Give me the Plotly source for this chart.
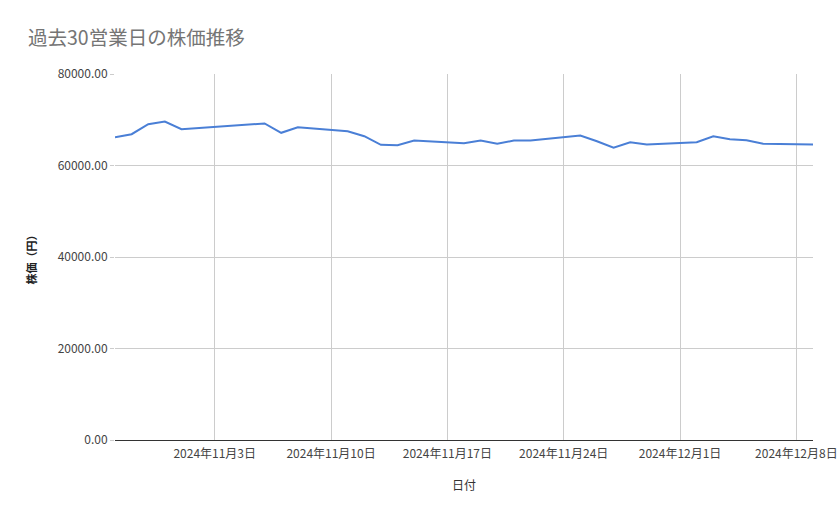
import plotly.graph_objects as go

dates = ["2024-10-28", "2024-10-29", "2024-10-30", "2024-10-31", "2024-11-01",
         "2024-11-05", "2024-11-06", "2024-11-07", "2024-11-08",
         "2024-11-11", "2024-11-12", "2024-11-13", "2024-11-14", "2024-11-15",
         "2024-11-18", "2024-11-19", "2024-11-20", "2024-11-21", "2024-11-22",
         "2024-11-25", "2024-11-26", "2024-11-27", "2024-11-28", "2024-11-29",
         "2024-12-02", "2024-12-03", "2024-12-04", "2024-12-05", "2024-12-06",
         "2024-12-09"]
prices = [66190, 66840, 69030, 69620, 67940,
          68900, 69180, 67150, 68370,
          67500, 66400, 64530, 64440, 65470,
          64880, 65470, 64740, 65470, 65470,
          66560, 65310, 63870, 65090, 64590,
          65090, 66400, 65750, 65530, 64740,
          64590]

tick_vals = ["2024-11-03", "2024-11-10", "2024-11-17", "2024-11-24", "2024-12-01", "2024-12-08"]
tick_text = ["2024年11月3日", "2024年11月10日", "2024年11月17日", "2024年11月24日", "2024年12月1日", "2024年12月8日"]
y_ticks = [0, 20000, 40000, 60000, 80000]
y_text = ["0.00", "20000.00", "40000.00", "60000.00", "80000.00"]

FONT = "Noto Sans CJK JP, Roboto, sans-serif"

fig = go.Figure(go.Scatter(
    x=dates, y=prices, mode="lines",
    line=dict(color="#4a7fd6", width=2),
    hoverinfo="x+y",
))

fig.update_layout(
    width=839, height=519,
    margin=dict(l=115, r=26, t=74, b=79),
    paper_bgcolor="white", plot_bgcolor="white",
    showlegend=False,
    font=dict(family=FONT, size=12, color="#444444"),
    title=dict(text="過去30営業日の株価推移", x=0.0334, xanchor="left",
               y=0.927, yanchor="middle",
               font=dict(family=FONT, size=19.5, color="#757575")),
    xaxis=dict(
        type="date", range=["2024-10-28", "2024-12-09"],
        tickvals=tick_vals, ticktext=tick_text,
        automargin=False,
        showgrid=True, gridcolor="#cccccc", gridwidth=1,
        showline=False, zeroline=False, ticks="",
        ticklabelstandoff=5,
        tickfont=dict(size=12, color="#444444"),
        title=dict(text="日付", font=dict(size=12, color="#333333"), standoff=21),
    ),
    yaxis=dict(
        range=[0, 80000],
        tickvals=y_ticks, ticktext=y_text,
        automargin=False,
        showgrid=True, gridcolor="#cccccc", gridwidth=1,
        zeroline=True, zerolinecolor="#333333", zerolinewidth=1,
        ticks="outside", ticklen=4, tickcolor="#cccccc",
        tickfont=dict(size=12, color="#444444"),
        title=dict(text="<b>株価（円）</b>", font=dict(size=11, color="#222222"), standoff=18),
    ),
)

fig.write_html("out.html", config={"displayModeBar": False},
               post_script="document.body.style.margin='0';document.body.style.overflow='hidden';")
